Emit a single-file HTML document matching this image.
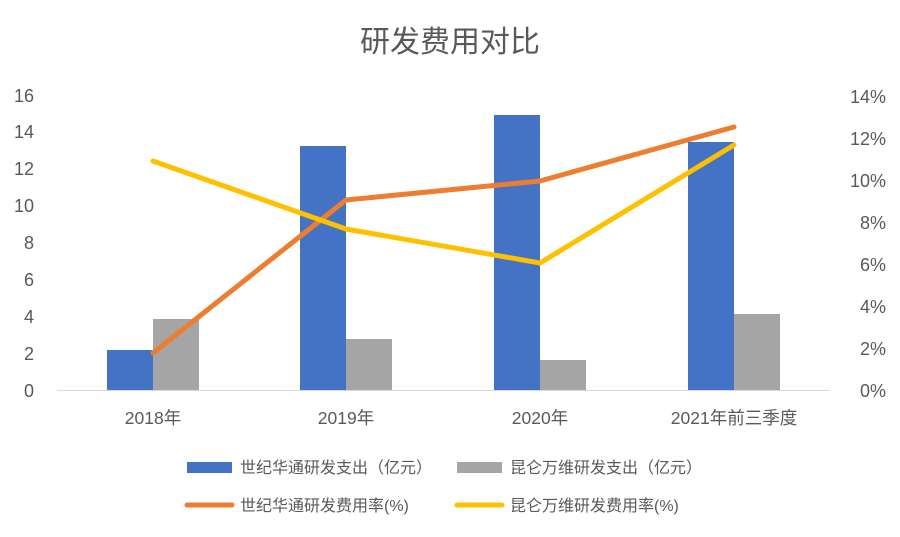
<!DOCTYPE html>
<html><head><meta charset="utf-8"><style>
body{margin:0;background:#fff;}
svg text{font-family:"Liberation Sans","Noto Sans CJK SC",sans-serif;fill:#595959;}
</style></head><body>
<svg width="900" height="532" xmlns="http://www.w3.org/2000/svg">
<rect width="900" height="532" fill="#fff"/>
<text x="450" y="52" font-size="30" text-anchor="middle" fill="#404040">研发费用对比</text>
<g font-size="18" text-anchor="end">
<text x="34" y="397">0</text><text x="34" y="360">2</text><text x="34" y="323">4</text>
<text x="34" y="286">6</text><text x="34" y="249">8</text><text x="34" y="212">10</text>
<text x="34" y="175">12</text><text x="34" y="138">14</text><text x="34" y="102">16</text>
</g>
<g font-size="18" text-anchor="end">
<text x="886" y="397">0%</text><text x="886" y="355">2%</text><text x="886" y="313">4%</text>
<text x="886" y="271">6%</text><text x="886" y="229">8%</text><text x="886" y="187">10%</text>
<text x="886" y="145">12%</text><text x="886" y="103">14%</text>
</g>
<g fill="#4472C4">
<rect x="107" y="350" width="46" height="40"/>
<rect x="300" y="146" width="46" height="244"/>
<rect x="494" y="115" width="46" height="275"/>
<rect x="688" y="142" width="46" height="248"/>
</g>
<g fill="#A5A5A5">
<rect x="153" y="319" width="46" height="71"/>
<rect x="346" y="339" width="46" height="51"/>
<rect x="540" y="360" width="46" height="30"/>
<rect x="734" y="314" width="46" height="76"/>
</g>
<line x1="57" y1="390.5" x2="830" y2="390.5" stroke="#D9D9D9" stroke-width="1"/>
<polyline points="153,353 346,200 540,181 734,127" fill="none" stroke="#ED7D31" stroke-width="5" stroke-linejoin="round" stroke-linecap="round"/>
<polyline points="153,161 346,229 540,263 734,145" fill="none" stroke="#FFC000" stroke-width="5" stroke-linejoin="round" stroke-linecap="round"/>
<g font-size="17.5" text-anchor="middle">
<text x="153" y="424">2018年</text><text x="346" y="424">2019年</text>
<text x="540" y="424">2020年</text><text x="734" y="424">2021年前三季度</text>
</g>
<rect x="187" y="462" width="45" height="11" fill="#4472C4"/>
<text x="240" y="473" font-size="16">世纪华通研发支出（亿元）</text>
<rect x="457" y="462" width="45" height="11" fill="#A5A5A5"/>
<text x="510" y="473" font-size="16">昆仑万维研发支出（亿元）</text>
<line x1="187" y1="505" x2="232" y2="505" stroke="#ED7D31" stroke-width="5" stroke-linecap="round"/>
<text x="240" y="511" font-size="16">世纪华通研发费用率(%)</text>
<line x1="457" y1="505" x2="502" y2="505" stroke="#FFC000" stroke-width="5" stroke-linecap="round"/>
<text x="510" y="511" font-size="16">昆仑万维研发费用率(%)</text>
</svg>
</body></html>
